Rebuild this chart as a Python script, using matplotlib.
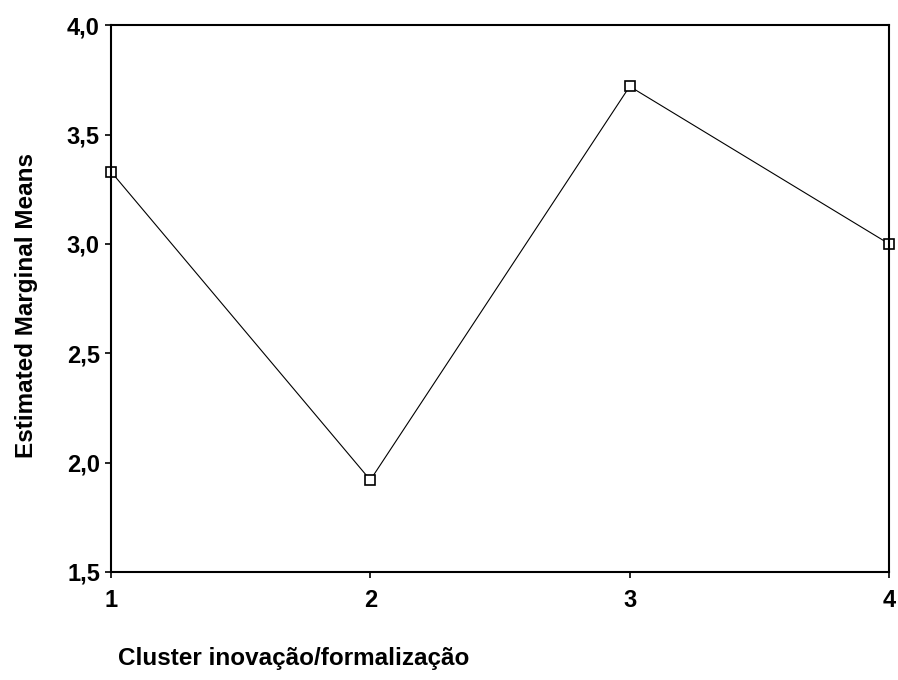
import matplotlib
matplotlib.use("Agg")
import matplotlib.pyplot as plt
from matplotlib.ticker import FuncFormatter

clusters = [1, 2, 3, 4]
means = [3.33, 1.92, 3.72, 3.00]
y_ticks = [1.5, 2.0, 2.5, 3.0, 3.5, 4.0]

plt.rcParams['font.family'] = ['Liberation Sans', 'DejaVu Sans']
plt.rcParams['font.weight'] = 'bold'

fig = plt.figure(figsize=(8.98, 6.80), dpi=100)
ax = fig.add_axes([0.1236, 0.159, 0.8664, 0.804])

ax.plot(clusters, means, color='black', linewidth=0.8, marker='s', markersize=7,
        markerfacecolor='white', markeredgecolor='black', markeredgewidth=1.2, clip_on=False)

ax.set_xlim(1, 4)
ax.set_ylim(1.5, 4.0)
ax.set_xticks(clusters)
ax.set_yticks(y_ticks)
ax.yaxis.set_major_formatter(FuncFormatter(lambda v, p: f"{v:.1f}".replace('.', ',')))
ax.tick_params(axis='both', direction='out', length=4, width=1.2, labelsize=17)
ax.tick_params(axis='x', pad=8)
ax.tick_params(axis='y', pad=4)
for s in ax.spines.values():
    s.set_linewidth(1.5)

fig.text(0.029, 0.55, 'Estimated Marginal Means', fontsize=17.5, fontweight='bold',
         rotation=90, ha='center', va='center')
fig.text(0.131, 0.032, 'Cluster inovação/formalização', fontsize=17.5, fontweight='bold',
         ha='left', va='center')

fig.savefig('out.png', dpi=100)
